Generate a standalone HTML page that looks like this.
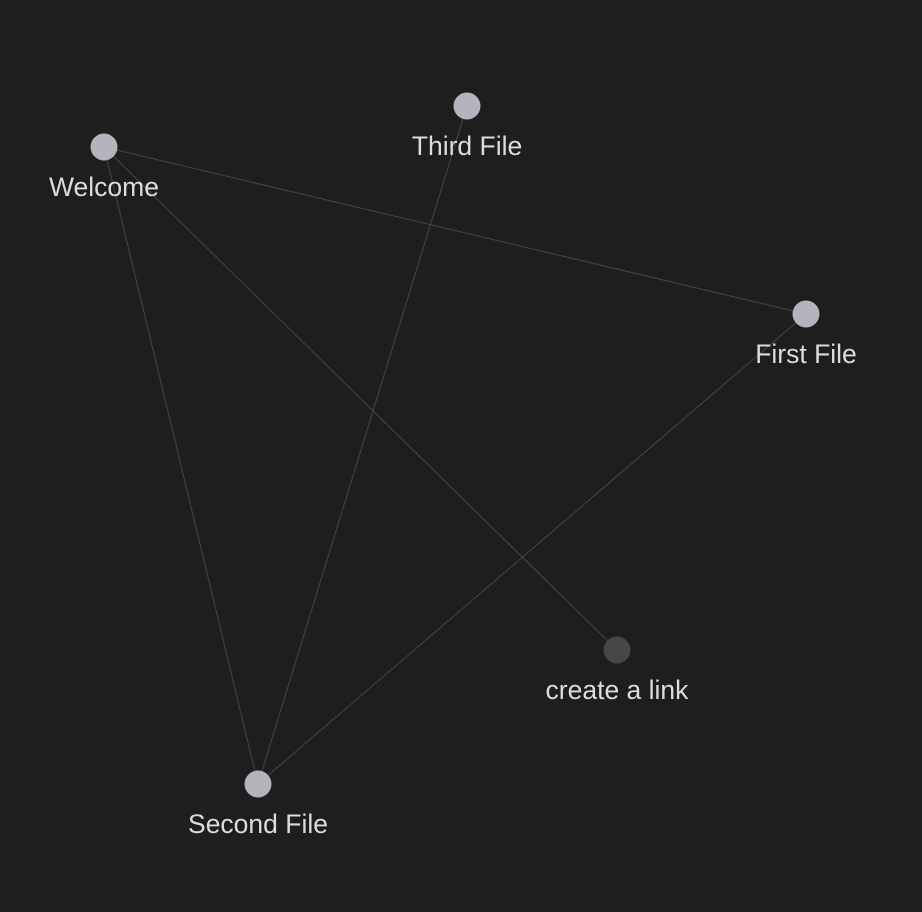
<!DOCTYPE html>
<html><head><meta charset="utf-8"><style>
html,body{margin:0;padding:0;background:#1e1e1e;width:922px;height:912px;overflow:hidden}
svg text{font-family:"Liberation Sans","DejaVu Sans",sans-serif;font-size:26.5px;fill:#dcdcdc}
</style></head><body>
<svg id="g" width="922" height="912" viewBox="0 0 922 912"></svg>
<script>
const names=["Welcome","Third File","First File","create a link","Second File"];
const xs=[104,467,806,617,258];
const ys=[147,106,314,650,784];
const resolved=[1,1,1,0,1];
const linksFrom=[0,0,0,1,2];
const linksTo=[2,4,3,4,4];
const NS="http://www.w3.org/2000/svg";
const svg=document.getElementById('g');
for(let i=0;i<linksFrom.length;i++){
  const l=document.createElementNS(NS,'line');
  l.setAttribute('x1',xs[linksFrom[i]]);l.setAttribute('y1',ys[linksFrom[i]]);
  l.setAttribute('x2',xs[linksTo[i]]);l.setAttribute('y2',ys[linksTo[i]]);
  l.setAttribute('stroke','#464646');l.setAttribute('stroke-width','1');
  
  
  svg.appendChild(l);
}
for(let i=0;i<names.length;i++){
  const c=document.createElementNS(NS,'circle');
  c.setAttribute('cx',xs[i]);c.setAttribute('cy',ys[i]);c.setAttribute('r',13.5);
  c.setAttribute('fill',resolved[i]?'#b4b4bc':'#474747');
  
  
  svg.appendChild(c);
  const t=document.createElementNS(NS,'text');
  t.setAttribute('x',xs[i]);t.setAttribute('y',ys[i]+49);
  t.setAttribute('text-anchor','middle');
  t.textContent=names[i];
  
  
  svg.appendChild(t);
}
</script>
</body></html>
